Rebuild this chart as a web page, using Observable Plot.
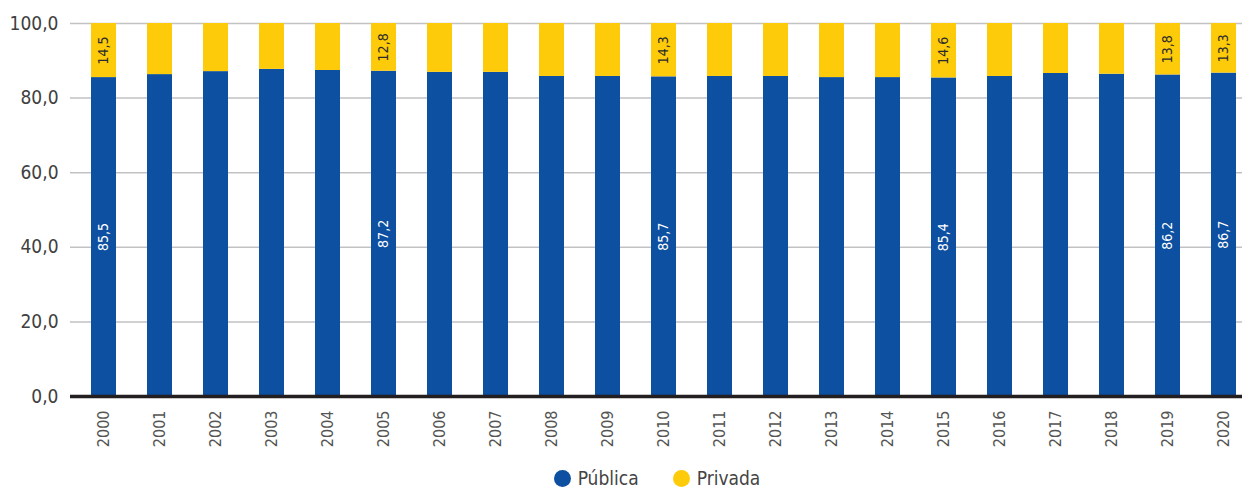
<!DOCTYPE html>
<html>
<head>
<meta charset="utf-8">
<script src="https://cdn.jsdelivr.net/npm/d3@7"></script>
<script src="https://cdn.jsdelivr.net/npm/@observablehq/plot@0.6"></script>
<style>
  html, body { margin: 0; padding: 0; background: #fff; }
  #chart svg { display: block; overflow: visible; }
  #chart g[aria-label^="y-axis"] text { font-size: 19px; fill: #404040; }
  #chart g[aria-label^="x-axis"] text { font-size: 16px; fill: #555; }
  .legend { display: flex; justify-content: center; align-items: center; gap: 34px;
    font-family: "DejaVu Sans Condensed", Roboto, sans-serif;
    font-size: 19px; color: #444; height: 26px; margin-top: 10px; margin-left: 72px; }
  .legend span.item { display: flex; align-items: center; gap: 7px; }
  .legend span.dot { width: 17px; height: 17px; border-radius: 50%; display: inline-block; }
</style>
</head>
<body>
<div id="chart"></div>
<div class="legend">
  <span class="item"><span class="dot" style="background:#0d4fa0"></span>Pública</span>
  <span class="item"><span class="dot" style="background:#fecb0a"></span>Privada</span>
</div>
<script>
const years = ["2000","2001","2002","2003","2004","2005","2006","2007","2008","2009","2010",
  "2011","2012","2013","2014","2015","2016","2017","2018","2019","2020"];
const publica = [85.5, 86.3, 87.1, 87.7, 87.4, 87.2, 86.9, 86.9, 85.8, 85.8, 85.7,
  85.8, 85.8, 85.5, 85.5, 85.4, 85.8, 86.6, 86.4, 86.2, 86.7];
const privada = [14.5, 13.7, 12.9, 12.3, 12.6, 12.8, 13.1, 13.1, 14.2, 14.2, 14.3,
  14.2, 14.2, 14.5, 14.5, 14.6, 14.2, 13.4, 13.6, 13.8, 13.3];
const series = ["Pública", "Privada"];
const colors = ["#0d4fa0", "#fecb0a"];
const labeledYears = ["2000", "2005", "2010", "2015", "2019", "2020"];
const yTicks = [0, 20, 40, 60, 80, 100];

const data = [];
years.forEach((y, i) => {
  data.push({year: y, serie: series[0], value: publica[i]});
  data.push({year: y, serie: series[1], value: privada[i]});
});
const labelData = data.filter(d => labeledYears.includes(d.year));
const fmt = v => v.toFixed(1).replace(".", ",");
const font = '"DejaVu Sans Condensed", Roboto, sans-serif';

const stackOpts = {x: "year", y: "value", z: "serie", order: series};

const chart = Plot.plot({
  width: 1242,
  height: 455,
  marginLeft: 70,
  marginRight: 0,
  marginTop: 23,
  marginBottom: 59,
  style: {fontFamily: font, background: "transparent", overflow: "visible"},
  x: {type: "band", domain: years, range: [70, 1256], paddingInner: 0.554, paddingOuter: 0.357,
      tickRotate: -90, tickSize: 0, tickPadding: 14, label: null},
  y: {domain: [0, 100], ticks: yTicks, tickFormat: fmt, tickSize: 0, tickPadding: 12, label: null},
  color: {domain: series, range: colors},
  marks: [
    Plot.ruleY(yTicks.filter(t => t > 0), {stroke: "#c2c2c2", strokeWidth: 1.5}),
    Plot.barY(data, Plot.stackY({...stackOpts, fill: "serie"})),
    Plot.text(labelData.filter(d => d.serie === series[0]), Plot.stackY({...stackOpts,
      text: d => fmt(d.value), rotate: -90, fill: "white", fontSize: 14, fontFamily: font})),
    Plot.text(labelData, Plot.stackY({...stackOpts,
      text: d => d.serie === series[1] ? fmt(d.value) : "", rotate: -90, fill: "#2a2a2a",
      fontSize: 14, fontFamily: font})),
    Plot.ruleY([0], {stroke: "#231f20", strokeWidth: 3.5})
  ]
});
document.getElementById("chart").appendChild(chart);
</script>
</body>
</html>
